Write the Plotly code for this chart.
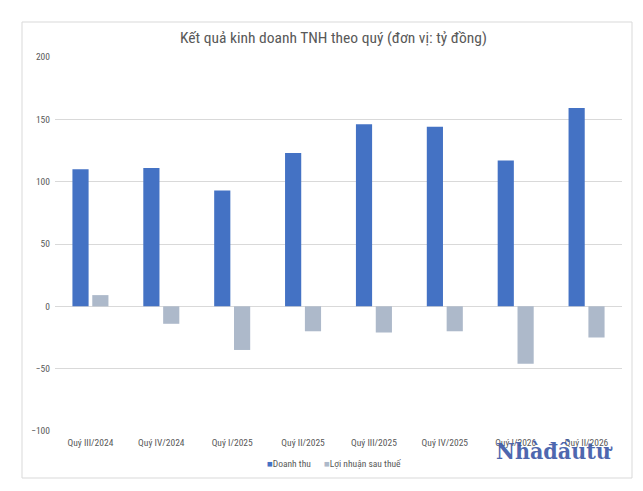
import plotly.graph_objects as go

categories = ["Quý III/2024", "Quý IV/2024", "Quý I/2025", "Quý II/2025",
              "Quý III/2025", "Quý IV/2025", "Quý I/2026", "Quý II/2026"]
doanh_thu = [110, 111, 93, 123, 146, 144, 117, 159]
loi_nhuan = [9, -14, -35, -20, -21, -20, -46, -25]
y_ticks = [-100, -50, 0, 50, 100, 150, 200]

# page body has an 8px margin, so the figure starts at (8, 8) of the window
OFF = 8
W, H = 643 - OFF, 491 - OFF
# plot area in window pixels: x 55..622, y 57..431
PX0, PX1, PY0, PY1 = 55, 622, 57, 431
L = PX0 - OFF
R = W - (PX1 - OFF)
T = PY0 - OFF
B = H - (PY1 - OFF)
pw = PX1 - PX0
ph = PY1 - PY0


def px_x(x):
    return (x - PX0) / pw


def px_y(y):
    return (PY1 - y) / ph


font_family = "Liberation Sans Narrow, Roboto Condensed, Roboto, sans-serif"
gray = "#595959"
c_rev = "#4472C4"
c_pro = "#ADB9CA"

fig = go.Figure()
fig.add_trace(go.Bar(name="Doanh thu", x=categories, y=doanh_thu,
                     marker=dict(color=c_rev, line=dict(width=0))))
fig.add_trace(go.Bar(name="Lợi nhuận sau thuế", x=categories, y=loi_nhuan,
                     marker=dict(color=c_pro, line=dict(width=0))))

fig.update_layout(
    width=W, height=H,
    margin=dict(l=L, r=R, t=T, b=B),
    paper_bgcolor="white", plot_bgcolor="white",
    barmode="group", bargap=0.44, bargroupgap=0.185,
    font=dict(family=font_family, color=gray, size=9),
    showlegend=False,
    xaxis=dict(showgrid=False, showline=False, ticks="",
               ticklabelstandoff=4,
               tickfont=dict(size=9.5, color=gray)),
    yaxis=dict(range=[-100, 200], tickvals=y_ticks, showgrid=True,
               gridcolor="#D9D9D9", gridwidth=1, zeroline=True,
               zerolinecolor="#D9D9D9", zerolinewidth=1, ticks="",
               ticklabelstandoff=4,
               showline=False, tickfont=dict(size=9.5, color=gray)),
)

fig.add_shape(type="rect", xref="paper", yref="paper",
              x0=px_x(22), x1=px_x(632), y0=px_y(478), y1=px_y(22),
              line=dict(color="#D9D9D9", width=1), layer="below")

fig.add_annotation(text="Kết quả kinh doanh TNH theo quý (đơn vị: tỷ đồng)",
                   xref="paper", yref="paper", x=px_x(333), y=px_y(38),
                   showarrow=False, xanchor="center", yanchor="middle",
                   font=dict(size=15.5, color=gray, family=font_family))

legend_html = (f'<span style="color:{c_rev}">■</span>{fig.data[0].name}'
               f'      <span style="color:{c_pro}">■</span>{fig.data[1].name}')
fig.add_annotation(text=legend_html, xref="paper", yref="paper",
                   x=px_x(334), y=px_y(464), showarrow=False,
                   xanchor="center", yanchor="middle",
                   font=dict(size=9.5, color=gray, family=font_family))

fig.add_annotation(text="<b>Nhàđầutư</b>", xref="paper", yref="paper",
                   x=px_x(554), y=px_y(450), showarrow=False,
                   xanchor="center", yanchor="middle", opacity=0.92,
                   font=dict(size=23, color="#3F5BA9",
                             family="DejaVu Serif Condensed, Liberation Serif, serif"))

fig.write_html("out.html")
